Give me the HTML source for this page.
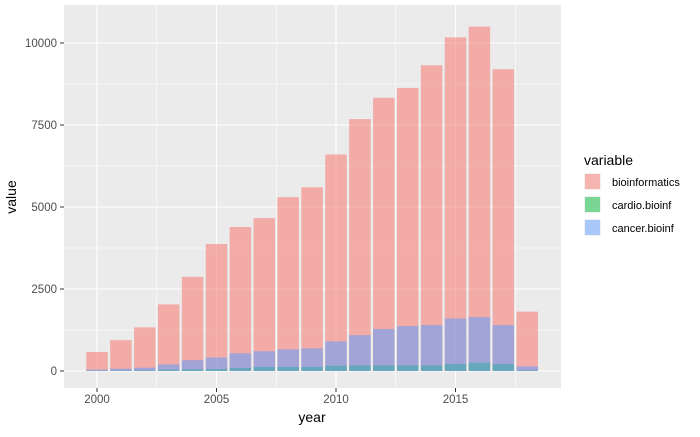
<!DOCTYPE html>
<html><head><meta charset="utf-8"><style>
body{margin:0;background:#fff;font-family:"Liberation Sans",Arial,sans-serif}
</style></head><body>
<svg id="c" width="700" height="432" xmlns="http://www.w3.org/2000/svg" font-family="Liberation Sans, Arial, sans-serif">
<rect x="64" y="5" width="497" height="383" fill="#EBEBEB"/>
<g id="grid"></g><g id="bars"></g><g id="axes"></g>
<text x="312" y="422" font-size="14" text-anchor="middle" fill="#000">year</text>
<text transform="translate(16,197) rotate(-90)" font-size="14" text-anchor="middle" fill="#000">value</text>
<g id="legend">
<text x="584" y="165" font-size="14">variable</text>
</g>
</svg>
<script>
const years=[2000,2001,2002,2003,2004,2005,2006,2007,2008,2009,2010,2011,2012,2013,2014,2015,2016,2017,2018];
const bioinformatics=[580,940,1330,2030,2870,3870,4390,4660,5300,5600,6600,7680,8330,8630,9320,10170,10500,9200,1810];
const cancerBioinf=[40,70,100,200,330,410,540,600,660,690,900,1090,1280,1370,1400,1600,1640,1400,140];
const cardioBioinf=[10,15,20,40,50,60,90,120,120,120,160,170,170,170,170,210,250,210,20];
const yTicks=[0,2500,5000,7500,10000];
const xTicks=[2000,2005,2010,2015];
const seriesNames=["bioinformatics","cardio.bioinf","cancer.bioinf"];
const seriesColors=["#F8766D","#00BA38","#619CFF"];
const NS="http://www.w3.org/2000/svg";
const X=v=>97+(v-2000)*23.9;
const Y=v=>371-v*82/2500;
function mk(t,a,p){const e=document.createElementNS(NS,t);for(const k in a)e.setAttribute(k,a[k]);p.appendChild(e);return e;}
const grid=document.getElementById('grid'),bars=document.getElementById('bars'),axes=document.getElementById('axes'),legend=document.getElementById('legend');
for(let i=0;i<yTicks.length;i++){
 const l=mk('line',{x1:64,x2:561,y1:Y(yTicks[i]),y2:Y(yTicks[i]),stroke:'#fff','stroke-width':1.1},grid);
 
 
 if(i<yTicks.length-1){const m=mk('line',{x1:64,x2:561,y1:Y((yTicks[i]+yTicks[i+1])/2),y2:Y((yTicks[i]+yTicks[i+1])/2),stroke:'#fff','stroke-width':0.5},grid);
 
 }
 const t=mk('text',{x:57,y:Y(yTicks[i])+4,'font-size':11.5,'text-anchor':'end',fill:'#4D4D4D'},axes);t.textContent=yTicks[i];
 
 
 mk('line',{x1:60,x2:64,y1:Y(yTicks[i]),y2:Y(yTicks[i]),stroke:'#333'},axes);
}
for(let i=0;i<xTicks.length;i++){
 const l=mk('line',{x1:X(xTicks[i]),x2:X(xTicks[i]),y1:5,y2:388,stroke:'#fff','stroke-width':1.1},grid);
 
 
 const m=mk('line',{x1:X(xTicks[i]+2.5),x2:X(xTicks[i]+2.5),y1:5,y2:388,stroke:'#fff','stroke-width':0.5},grid);
 
 
 const t=mk('text',{x:X(xTicks[i]),y:403,'font-size':11.5,'text-anchor':'middle',fill:'#4D4D4D'},axes);t.textContent=xTicks[i];
 
 
 mk('line',{x1:X(xTicks[i]),x2:X(xTicks[i]),y1:388,y2:392,stroke:'#333'},axes);
}
const bw=21.5;
const draw=[[bioinformatics,0],[cardioBioinf,1],[cancerBioinf,2]];
for(const [arr,ci] of draw){
 for(let i=0;i<years.length;i++){
  const r=mk('rect',{x:X(years[i])-bw/2,y:Y(arr[i]),width:bw,height:Y(0)-Y(arr[i]),fill:seriesColors[ci],'fill-opacity':0.55},bars);
  
  
 }
}
for(let i=0;i<seriesNames.length;i++){
 const y=173+i*23;
 mk('rect',{x:584,y:y,width:17,height:17,fill:'#F2F2F2'},legend);
 const k=mk('rect',{x:585,y:y+1,width:15,height:15,fill:seriesColors[i],'fill-opacity':0.5},legend);
 
 
 const t=mk('text',{x:612,y:y+13,'font-size':11,fill:'#000'},legend);t.textContent=seriesNames[i];
 
 
}
</script>
</body></html>
